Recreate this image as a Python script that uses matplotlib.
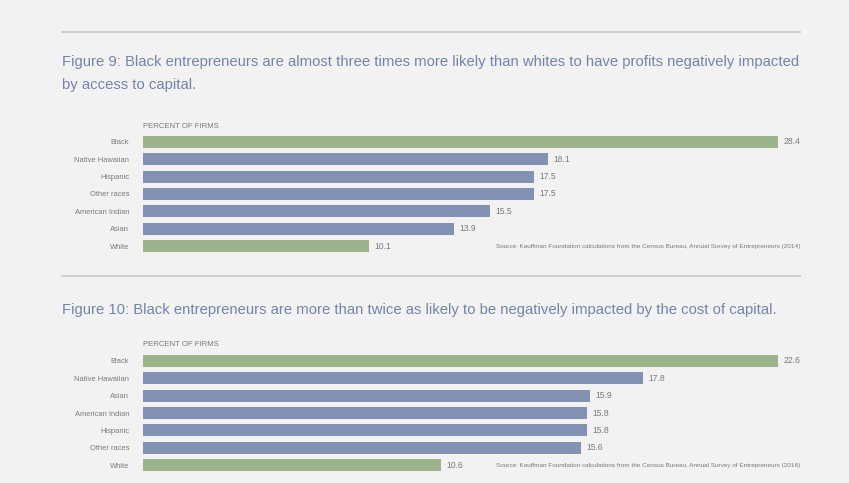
import matplotlib.pyplot as plt
from matplotlib.lines import Line2D

# figure 9 data
groups_9 = ["Black", "Native Hawaiian", "Hispanic", "Other races",
            "American Indian", "Asian", "White"]
values_9 = [28.4, 18.1, 17.5, 17.5, 15.5, 13.9, 10.1]

# figure 10 data
groups_10 = ["Black", "Native Hawaiian", "Asian", "American Indian",
             "Hispanic", "Other races", "White"]
values_10 = [22.6, 17.8, 15.9, 15.8, 15.8, 15.6, 10.6]

highlight = ["Black", "White"]

title_9 = ("Figure 9: Black entrepreneurs are almost three times more likely than whites to have profits negatively impacted\n"
           "by access to capital.")
title_10 = "Figure 10: Black entrepreneurs are more than twice as likely to be negatively impacted by the cost of capital."
source_9 = "Source: Kauffman Foundation calculations from the Census Bureau, Annual Survey of Entrepreneurs (2014)"
source_10 = "Source: Kauffman Foundation calculations from the Census Bureau, Annual Survey of Entrepreneurs (2016)"

green = "#9db38b"
blue = "#8391b3"
bg = "#f2f2f2"
title_col = "#7484a8"
txt_col = "#7a7a7a"

plt.rcParams['font.family'] = ['Liberation Sans', 'DejaVu Sans']

W, H = 849, 483
fig = plt.figure(figsize=(W / 100, H / 100), dpi=100)
fig.patch.set_facecolor(bg)


def fx(px):
    return px / W


def fy(py):
    return 1 - py / H


def draw_panel(groups, values, top_px, bot_px, source, label_y):
    # bars start at x=143 px, the longest bar ends at 778 px
    left, right, bar_end = 143, 800, 778
    ax = fig.add_axes([fx(left), fy(bot_px), fx(right - left), fy(top_px) - fy(bot_px)])
    ax.set_facecolor("none")
    ypos = list(range(len(groups)))
    cols = [green if g in highlight else blue for g in groups]
    ax.barh(ypos, values, height=0.7, color=cols)
    vmax = max(values)
    ax.set_xlim(0, vmax * (right - left) / (bar_end - left))
    ax.set_ylim(len(groups) - 0.5, -0.5)
    ax.set_yticks(ypos)
    ax.set_yticklabels(groups, fontsize=5.4, color=txt_col)
    ax.tick_params(axis="y", length=0, pad=10)
    ax.set_xticks([])
    for s in ax.spines.values():
        s.set_visible(False)
    for y, v in zip(ypos, values):
        ax.annotate(f"{v:.1f}", (v, y), xytext=(4, 0), textcoords="offset points",
                    va="center", ha="left", fontsize=6.2, color=txt_col)
    fig.text(fx(left), fy(label_y), "PERCENT OF FIRMS", fontsize=5.6,
             color=txt_col, va="center", ha="left")
    fig.text(fx(800), fy(bot_px - 8.5), source, fontsize=4.6,
             color=txt_col, va="center", ha="right")


# separator lines
for ly in (32, 276):
    fig.add_artist(Line2D([fx(62), fx(800)], [fy(ly), fy(ly)], color="#c9c9c9", lw=1.2))

fig.text(fx(62), fy(73.5), title_9, fontsize=10.7, color=title_col,
         va="center", ha="left", linespacing=1.75)
fig.text(fx(62), fy(310), title_10, fontsize=10.7, color=title_col,
         va="center", ha="left")

draw_panel(groups_9, values_9, 133.3, 254.7, source_9, 126)
draw_panel(groups_10, values_10, 352.3, 473.7, source_10, 345)

fig.savefig("out.png", dpi=100, facecolor=bg)
